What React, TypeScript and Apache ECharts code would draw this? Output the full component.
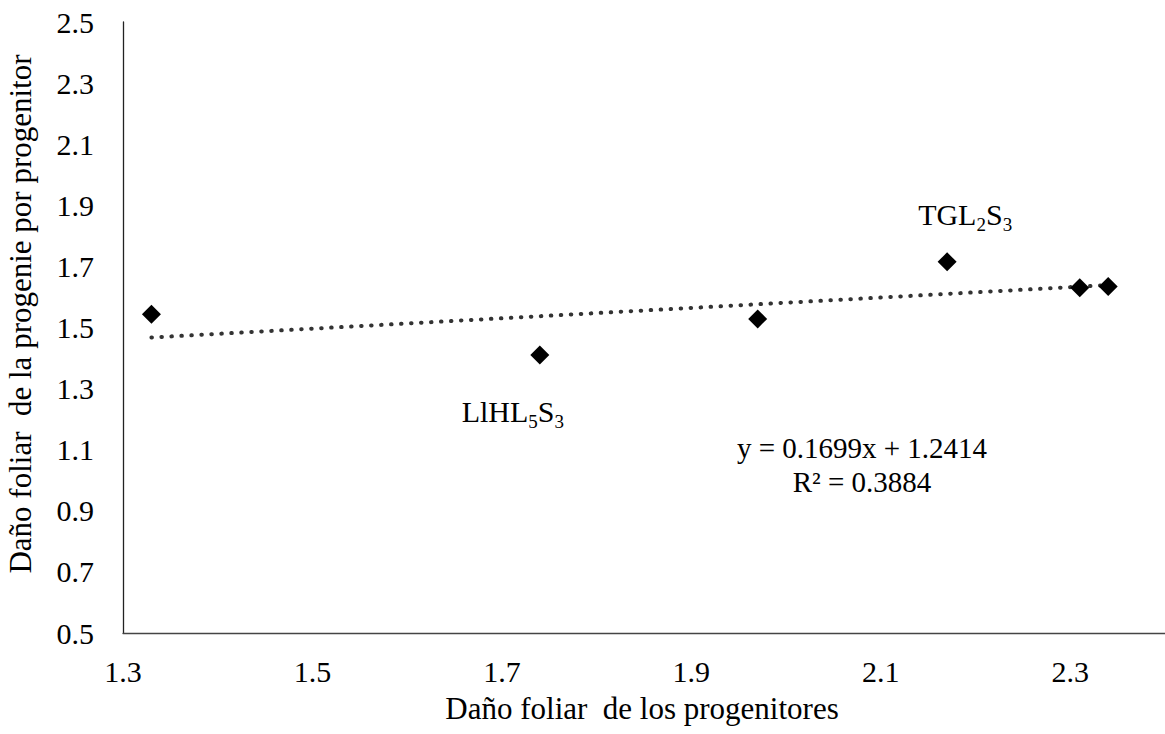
import React, { useEffect, useRef } from "react";
import * as echarts from "echarts";

const xValues = [1.33, 1.74, 1.97, 2.17, 2.31, 2.34];
const yValues = [1.543, 1.41, 1.528, 1.715, 1.63, 1.634];
const pointNames = ["", "LlHL|5|S|3", "", "TGL|2|S|3", "", ""];
const slope = 0.1699;
const intercept = 1.2414;
const rSquared = 0.3884;
const xTitle = "Daño foliar  de los progenitores";
const yTitle = "Daño foliar  de la progenie por progenitor";

const FONT = "'Liberation Serif', 'Times New Roman', serif";

function richName(name: string) {
  if (!name) return "";
  const parts = name.split("|");
  return parts.map((p, i) => (i % 2 === 0 ? `{m|${p}}` : `{s|${p}}`)).join("");
}

export default function App() {
  const ref = useRef<HTMLDivElement>(null);
  useEffect(() => {
    if (!ref.current) return;
    const chart = echarts.init(ref.current, null, { renderer: "svg" });
    const points = xValues.map((x, i) => {
      const item: any = { value: [x, yValues[i]] };
      if (pointNames[i]) {
        item.label = {
          show: true,
          formatter: richName(pointNames[i]),
          position: i === 1 ? "bottom" : "top",
          offset: i === 1 ? [-27, 32] : [18, -13],
        };
      }
      return item;
    });
    const xMin = Math.min(...xValues);
    const xMax = Math.max(...xValues);
    const trend = [
      [xMin, slope * xMin + intercept],
      [xMax, slope * xMax + intercept],
    ];
    const rich = {
      m: { fontSize: 30, fontFamily: FONT, color: "#000", lineHeight: 30, padding: [0, 0, 5, 0], verticalAlign: "bottom" },
      s: { fontSize: 19, fontFamily: FONT, color: "#000", lineHeight: 19, verticalAlign: "bottom" },
    };
    chart.setOption({
      animation: false,
      backgroundColor: "#fff",
      grid: { left: 123, top: 22, right: -6, bottom: 101, containLabel: false },
      xAxis: {
        type: "value",
        min: 1.3,
        max: 2.4,
        interval: 0.2,
        splitLine: { show: false },
        axisTick: { show: false },
        axisLine: { lineStyle: { color: "#444", width: 1.3 } },
        axisLabel: { showMaxLabel: false, margin: 23, fontSize: 30, fontFamily: FONT, color: "#000", formatter: (v: number) => v.toFixed(1) },
      },
      yAxis: {
        type: "value",
        min: 0.5,
        max: 2.5,
        interval: 0.2,
        splitLine: { show: false },
        axisTick: { show: false },
        axisLine: { show: true, lineStyle: { color: "#222", width: 1.3 } },
        axisLabel: { margin: 29, fontSize: 30, fontFamily: FONT, color: "#000", formatter: (v: number) => v.toFixed(1) },
      },
      graphic: [
        {
          type: "text",
          x: 642,
          y: 708,
          style: { text: xTitle, font: `31px ${FONT}`, fill: "#000", textAlign: "center", textVerticalAlign: "middle" },
        },
        {
          type: "text",
          x: 20,
          y: 314,
          rotation: Math.PI / 2,
          style: { text: yTitle, font: `31px ${FONT}`, fill: "#000", textAlign: "center", textVerticalAlign: "middle" },
        },
        {
          type: "text",
          x: 862,
          y: 448,
          style: { text: `y = ${slope}x + ${intercept}`, font: `29px ${FONT}`, fill: "#000", textAlign: "center", textVerticalAlign: "middle" },
        },
        {
          type: "text",
          x: 862,
          y: 482,
          style: { text: `R² = ${rSquared}`, font: `29px ${FONT}`, fill: "#000", textAlign: "center", textVerticalAlign: "middle" },
        },
      ],
      series: [
        {
          type: "line",
          data: trend,
          showSymbol: false,
          symbol: "none",
          lineStyle: { color: "#333", width: 4, type: [0.5, 9.5], cap: "round" },
          z: 1,
          silent: true,
        },
        {
          type: "scatter",
          data: points,
          symbol: "diamond",
          symbolSize: 19,
          itemStyle: { color: "#000", opacity: 1 },
          label: { rich, opacity: 1 },
          z: 2,
        },
      ],
    });
    return () => chart.dispose();
  }, []);
  return <div ref={ref} style={{ position: "absolute", left: 0, top: 0, width: 1165, height: 734 }} />;
}
